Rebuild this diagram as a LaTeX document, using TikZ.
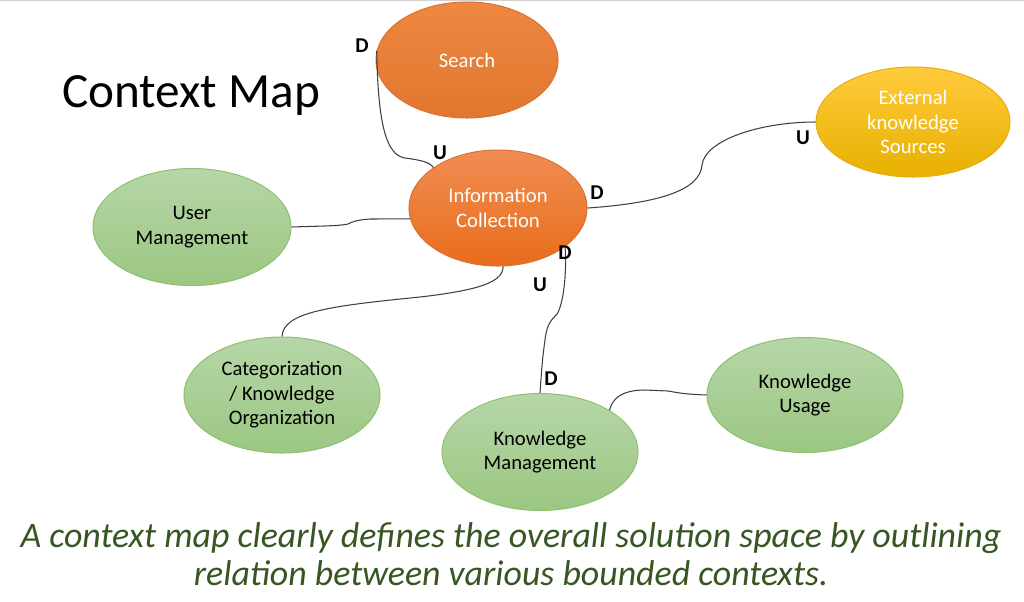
\documentclass[tikz,border=0pt]{standalone}
\usepackage{fontspec}
\setmainfont{Carlito}
\usetikzlibrary{shapes.geometric}
\definecolor{orgA}{HTML}{F08D52}
\definecolor{orgB}{HTML}{E86D1C}
\definecolor{orgS}{HTML}{ED7D31}
\definecolor{orgL}{HTML}{D8722F}
\definecolor{yelA}{HTML}{FFCB3C}
\definecolor{yelB}{HTML}{E8B000}
\definecolor{yelL}{HTML}{E3AE10}
\definecolor{grnA}{HTML}{B6D6A8}
\definecolor{grnB}{HTML}{9CC782}
\definecolor{grnL}{HTML}{8EC070}
\definecolor{capgreen}{HTML}{375623}
\definecolor{conn}{HTML}{404040}
\tikzset{
  ctx/.style={ellipse, inner sep=0pt, align=center, line width=0.7pt,
    font=\fontsize{14.7}{17.5}\selectfont},
  orangectx/.style={ctx, draw=orgL, top color=orgA, bottom color=orgB, text=white},
  searchctx/.style={ctx, draw=orgL, top color=orgS!92!white, bottom color=orgS!95!black, text=white},
  yellowctx/.style={ctx, draw=yelL, top color=yelA, bottom color=yelB, text=white},
  greenctx/.style={ctx, draw=grnL, top color=grnA, bottom color=grnB, text=black},
  link/.style={draw=conn, line width=0.75pt},
  rel/.style={font=\fontsize{15}{16}\selectfont\bfseries, text=black, inner sep=0pt}
}
\begin{document}
\begin{tikzpicture}[x=0.025cm, y=-0.025cm]
\useasboundingbox (0,0) rectangle (1024,601);
\fill[white] (0,0) rectangle (1024,601);
\draw[color=black!18, line width=1.2pt] (0,0.6) -- (1024,0.6);

\node[anchor=base west, inner sep=0pt, font=\fontsize{35}{40}\selectfont] (title) at (62,107) {Context Map};

\node[searchctx, minimum width=4.55cm, minimum height=2.9cm] (search) at (467,60) {Search};
\node[orangectx, minimum width=4.45cm, minimum height=2.9cm] (info) at (498,208) {Information\\Collection};
\node[yellowctx, minimum width=4.85cm, minimum height=2.75cm] (ext) at (913,122) {External\\knowledge\\Sources};
\node[greenctx, minimum width=4.95cm, minimum height=2.925cm] (user) at (192,227) {User\\Management};
\node[greenctx, minimum width=4.9cm, minimum height=2.9cm] (cat) at (282,395) {Categorization\\/ Knowledge\\Organization};
\node[greenctx, minimum width=4.9cm, minimum height=2.925cm] (km) at (540,452) {Knowledge\\Management};
\node[greenctx, minimum width=4.9cm, minimum height=2.875cm] (usage) at (805,395) {Knowledge\\Usage};

% connectors
\draw[link] (search.174) .. controls (378,120) and (385,155) .. (405,158)
  .. controls (420,160) and (430,162) .. (info.148);
\draw[link] (info.east) .. controls (660,203) and (700,190) .. (702,165)
  .. controls (705,140) and (760,122) .. (ext.west);
\draw[link] (user.east) .. controls (320,226) and (340,226) .. (348,224)
  .. controls (352,222) and (356,220) .. (370,219) -- (info.187);
\draw[link] (info.275) .. controls (503,282) and (480,290) .. (420,297)
  .. controls (330,306) and (283,312) .. (cat.north);
\draw[link] (info.330) .. controls (567,275) and (563,305) .. (557,314)
  .. controls (552,320) and (547,322) .. (545,340)
  .. controls (542,360) and (541,380) .. (km.north);
\draw[link] (km.31) .. controls (612,400) and (620,390) .. (645,390)
  -- (668,391) .. controls (675,392) and (680,394) .. (usage.west);

% relation labels
\node[rel] (d1) at (362,46) {D};
\node[rel] (u1) at (440,153) {U};
\node[rel] (d2) at (597,193) {D};
\node[rel] (u2) at (803,138) {U};
\node[rel] (d3) at (565,253) {D};
\node[rel] (u3) at (540,285) {U};
\node[rel] (d4) at (551,379) {D};

\node[inner sep=0pt, align=center, text=capgreen,
  font=\fontsize{25.5}{26.5}\selectfont\itshape, anchor=base] (caption) at (511,585)
  {A context map clearly defines the overall solution space by outlining\\relation between various bounded contexts.};
\end{tikzpicture}
\end{document}
